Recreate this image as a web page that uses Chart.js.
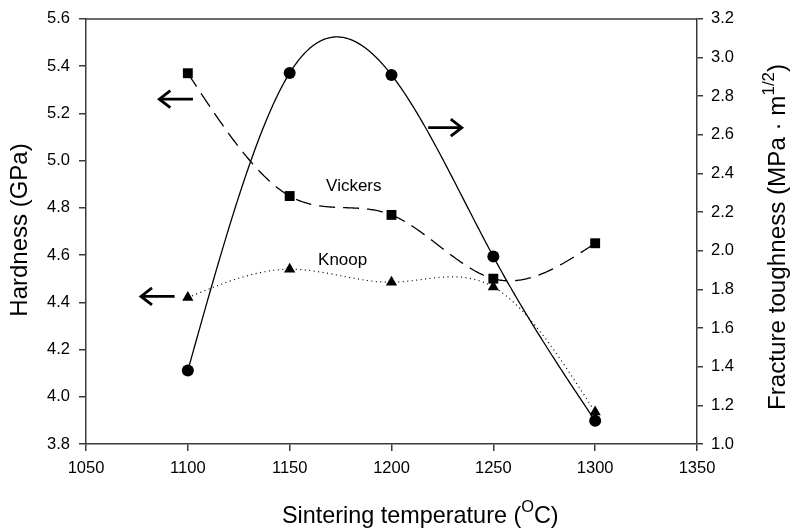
<!DOCTYPE html>
<html>
<head>
<meta charset="utf-8">
<script src="https://cdn.jsdelivr.net/npm/chart.js@4.4.1/dist/chart.umd.min.js"></script>
<style>
  html, body { margin: 0; padding: 0; background: #ffffff; }
  #wrap { width: 790px; height: 528px; position: relative; }
</style>
</head>
<body>
<div id="wrap"><canvas id="c" width="790" height="528"></canvas></div>
<script>
// ---- data ----
const temperatures = [1100, 1150, 1200, 1250, 1300];
const vickersHardness = [5.37, 4.85, 4.77, 4.50, 4.65];      // GPa, left axis
const knoopHardness = [4.42, 4.54, 4.485, 4.465, 3.935];     // GPa, left axis
const fractureToughness = [1.38, 2.92, 2.91, 1.97, 1.12];    // MPa·m^1/2, right axis
const xTicks = [1050, 1100, 1150, 1200, 1250, 1300, 1350];
const hardnessTicks = [3.8, 4.0, 4.2, 4.4, 4.6, 4.8, 5.0, 5.2, 5.4, 5.6];
const toughnessTicks = [1.0, 1.2, 1.4, 1.6, 1.8, 2.0, 2.2, 2.4, 2.6, 2.8, 3.0, 3.2];

// annotation text / arrows (in data coordinates)
const labelNotes = [
  { text: 'Vickers', x: 1181.5, y: 4.89, axis: 'y' },
  { text: 'Knoop', x: 1176, y: 4.577, axis: 'y' }
];
const arrowNotes = [
  { x0: 1102.5, x1: 1086, y: 5.26, axis: 'y' },
  { x0: 1218, x1: 1234.5, y: 2.637, axis: 'y2' },
  { x0: 1093.5, x1: 1077, y: 4.425, axis: 'y' }
];

const FONT = '"Liberation Sans", Arial, Helvetica, sans-serif';
const AXIS_COLOR = '#3a3a3a';

function pts(xs, ys) { return xs.map((x, i) => ({ x: x, y: ys[i] })); }

// natural cubic spline through the data points (as the original plotting program draws)
function naturalSpline(xs, ys) {
  const n = xs.length;
  const h = [];
  for (let i = 0; i < n - 1; i++) h.push(xs[i + 1] - xs[i]);
  const M = new Array(n).fill(0);
  if (n > 2) {
    const a = [], b = [], c = [], d = [];
    for (let i = 1; i < n - 1; i++) {
      a.push(h[i - 1]);
      b.push(2 * (h[i - 1] + h[i]));
      c.push(h[i]);
      d.push(6 * ((ys[i + 1] - ys[i]) / h[i] - (ys[i] - ys[i - 1]) / h[i - 1]));
    }
    const m = b.length;
    for (let i = 1; i < m; i++) {
      const w = a[i] / b[i - 1];
      b[i] -= w * c[i - 1];
      d[i] -= w * d[i - 1];
    }
    const sol = new Array(m);
    sol[m - 1] = d[m - 1] / b[m - 1];
    for (let i = m - 2; i >= 0; i--) sol[i] = (d[i] - c[i] * sol[i + 1]) / b[i];
    for (let i = 0; i < m; i++) M[i + 1] = sol[i];
  }
  return function (x, i) {
    const hi = h[i];
    const A = xs[i + 1] - x, B = x - xs[i];
    return M[i] * A * A * A / (6 * hi) + M[i + 1] * B * B * B / (6 * hi) +
      (ys[i] / hi - M[i] * hi / 6) * A + (ys[i + 1] / hi - M[i + 1] * hi / 6) * B;
  };
}

const splinePlugin = {
  id: 'splineLines',
  beforeDatasetsDraw(chart) {
    const ctx = chart.ctx;
    const ca = chart.chartArea;
    const xs = chart.scales.x;
    ctx.save();
    ctx.beginPath();
    ctx.rect(ca.left, ca.top, ca.right - ca.left, ca.bottom - ca.top);
    ctx.clip();
    chart.data.datasets.forEach(ds => {
      const px = ds.data.map(p => p.x);
      const py = ds.data.map(p => p.y);
      const f = naturalSpline(px, py);
      const ys = chart.scales[ds.yAxisID];
      ctx.strokeStyle = ds.lineColor;
      ctx.lineWidth = ds.lineWidth;
      ctx.setLineDash(ds.lineDash || []);
      ctx.lineCap = 'butt';
      ctx.beginPath();
      const steps = 80;
      for (let i = 0; i < px.length - 1; i++) {
        for (let k = (i === 0 ? 0 : 1); k <= steps; k++) {
          const xv = px[i] + (px[i + 1] - px[i]) * k / steps;
          const X = xs.getPixelForValue(xv);
          const Y = ys.getPixelForValue(f(xv, i));
          if (i === 0 && k === 0) ctx.moveTo(X, Y); else ctx.lineTo(X, Y);
        }
      }
      ctx.stroke();
    });
    ctx.restore();
  }
};

function drawRich(ctx, parts, size) {
  let x = 0;
  parts.forEach(p => {
    const fs = p.sup ? size * 0.7 : size;
    ctx.font = fs + 'px ' + FONT;
    ctx.fillText(p.t, x, p.sup ? -size * 0.45 : 0);
    x += ctx.measureText(p.t).width;
  });
  return x;
}
function richWidth(ctx, parts, size) {
  let w = 0;
  parts.forEach(p => {
    const fs = p.sup ? size * 0.7 : size;
    ctx.font = fs + 'px ' + FONT;
    w += ctx.measureText(p.t).width;
  });
  return w;
}

const decorPlugin = {
  id: 'decor',
  afterDatasetsDraw(chart) {
    const ctx = chart.ctx;
    const ca = chart.chartArea;
    const xs = chart.scales.x;
    ctx.save();
    // top frame line
    ctx.strokeStyle = AXIS_COLOR;
    ctx.lineWidth = 1.5;
    ctx.beginPath();
    ctx.moveTo(ca.left, ca.top);
    ctx.lineTo(ca.right, ca.top);
    ctx.stroke();

    // labels
    ctx.fillStyle = '#000';
    ctx.font = '17px ' + FONT;
    ctx.textAlign = 'center';
    ctx.textBaseline = 'middle';
    labelNotes.forEach(n => {
      ctx.fillText(n.text, xs.getPixelForValue(n.x), chart.scales[n.axis].getPixelForValue(n.y));
    });

    // arrows
    ctx.strokeStyle = '#000';
    ctx.lineWidth = 2.8;
    ctx.lineCap = 'butt';
    ctx.lineJoin = 'miter';
    arrowNotes.forEach(a => {
      const px0 = xs.getPixelForValue(a.x0);
      const px1 = xs.getPixelForValue(a.x1);
      const py = chart.scales[a.axis].getPixelForValue(a.y);
      const dir = px1 > px0 ? 1 : -1;
      ctx.beginPath();
      ctx.moveTo(px0, py);
      ctx.lineTo(px1 - dir * 1, py);
      ctx.stroke();
      ctx.beginPath();
      ctx.moveTo(px1 - dir * 11, py - 8.5);
      ctx.lineTo(px1, py);
      ctx.lineTo(px1 - dir * 11, py + 8.5);
      ctx.stroke();
    });

    // axis titles
    ctx.fillStyle = '#000';
    ctx.textAlign = 'left';
    ctx.textBaseline = 'alphabetic';
    const xParts = [{ t: 'Sintering temperature (' }, { t: 'O', sup: true }, { t: 'C)' }];
    ctx.save();
    ctx.translate(282, 523);
    drawRich(ctx, xParts, 23.4);
    ctx.restore();

    const lParts = [{ t: 'Hardness (GPa)' }];
    const lw = richWidth(ctx, lParts, 24);
    ctx.save();
    ctx.translate(27, 230 + lw / 2);
    ctx.rotate(-Math.PI / 2);
    drawRich(ctx, lParts, 24);
    ctx.restore();

    const rParts = [{ t: 'Fracture toughness (MPa \u00b7 m' }, { t: '1/2', sup: true }, { t: ')' }];
    const rw = richWidth(ctx, rParts, 24.2);
    ctx.save();
    ctx.translate(785, 237 + rw / 2);
    ctx.rotate(-Math.PI / 2);
    drawRich(ctx, rParts, 24.2);
    ctx.restore();

    ctx.restore();
  }
};

const tickFont = { family: FONT, size: 16.5 };

const chart = new Chart(document.getElementById('c'), {
  type: 'line',
  data: {
    datasets: [
      {
        label: 'Vickers',
        data: pts(temperatures, vickersHardness),
        yAxisID: 'y',
        showLine: false,
        lineColor: '#000',
        lineWidth: 1.3,
        lineDash: [16, 8],
        borderColor: '#000',
        backgroundColor: '#000',
        pointStyle: 'rect',
        pointRadius: 7,
        pointBorderWidth: 0
      },
      {
        label: 'Knoop',
        data: pts(temperatures, knoopHardness),
        yAxisID: 'y',
        showLine: false,
        lineColor: '#000',
        lineWidth: 1.2,
        lineDash: [1, 3.5],
        borderColor: '#000',
        backgroundColor: '#000',
        pointStyle: 'triangle',
        pointRadius: 6.5,
        pointBorderWidth: 0
      },
      {
        label: 'Fracture toughness',
        data: pts(temperatures, fractureToughness),
        yAxisID: 'y2',
        showLine: false,
        lineColor: '#000',
        lineWidth: 1.3,
        lineDash: [],
        borderColor: '#000',
        backgroundColor: '#000',
        pointStyle: 'circle',
        pointRadius: 6,
        pointBorderWidth: 0
      }
    ]
  },
  options: {
    responsive: false,
    animation: false,
    devicePixelRatio: 1,
    layout: { padding: { top: 18, left: 0, right: 0, bottom: 0 } },
    plugins: { legend: { display: false }, tooltip: { enabled: false } },
    scales: {
      x: {
        type: 'linear',
        position: 'bottom',
        min: 1050, max: 1350,
        afterBuildTicks(s) { s.ticks = xTicks.map(v => ({ value: v })); },
        afterFit(s) { s.height = 84; },
        ticks: { font: tickFont, color: '#000', padding: 8, maxRotation: 0, callback: v => String(v) },
        grid: { drawOnChartArea: false, drawTicks: true, tickLength: 7, color: AXIS_COLOR, lineWidth: 1.5 },
        border: { display: true, color: AXIS_COLOR, width: 1.5 }
      },
      y: {
        type: 'linear',
        position: 'left',
        min: 3.8, max: 5.6,
        afterBuildTicks(s) { s.ticks = hardnessTicks.map(v => ({ value: v })); },
        afterFit(s) { s.width = 86; },
        ticks: { font: tickFont, color: '#000', padding: 9, callback: v => Number(v).toFixed(1) },
        grid: { drawOnChartArea: false, drawTicks: true, tickLength: 7, color: AXIS_COLOR, lineWidth: 1.5 },
        border: { display: true, color: AXIS_COLOR, width: 1.5 }
      },
      y2: {
        type: 'linear',
        position: 'right',
        min: 1.0, max: 3.2,
        afterBuildTicks(s) { s.ticks = toughnessTicks.map(v => ({ value: v })); },
        afterFit(s) { s.width = 93; },
        ticks: { font: tickFont, color: '#000', padding: 8, callback: v => Number(v).toFixed(1) },
        grid: { drawOnChartArea: false, drawTicks: true, tickLength: 6, color: AXIS_COLOR, lineWidth: 1.5 },
        border: { display: true, color: AXIS_COLOR, width: 1.5 }
      }
    }
  },
  plugins: [splinePlugin, decorPlugin]
});
</script>
</body>
</html>
